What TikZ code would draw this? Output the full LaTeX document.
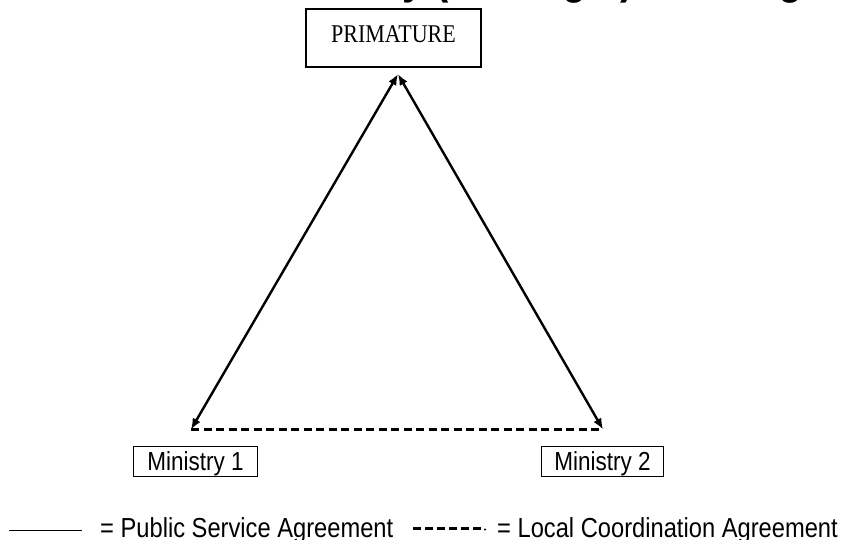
\documentclass[tikz,border=0pt]{standalone}
\usepackage{graphicx}
\usepackage{fontspec}
\setmainfont{Liberation Sans}
\newfontfamily\timesfont{Liberation Serif}
\usetikzlibrary{arrows.meta,calc}

% all lettering is set slightly taller than wide
\newcommand{\tallset}[1]{\scalebox{1}[1.16]{#1}}

\begin{document}
\begin{tikzpicture}[x=1pt,y=-1pt,
  headbox/.style={draw, line width=2.2pt, inner sep=0pt,
    minimum width=175pt, minimum height=58pt,
    font=\timesfont\fontsize{22}{26}\selectfont,
    text height=17pt, text depth=7pt},
  ministrybox/.style={draw, line width=1.1pt, inner sep=0pt,
    minimum width=#1, minimum height=30pt,
    font=\fontsize{22.5}{27}\selectfont,
    text height=18.7pt, text depth=0pt},
  legendtext/.style={anchor=base west, inner sep=0pt,
    font=\fontsize{23.7}{28}\selectfont},
  tip/.tip={Latex[length=11pt,width=9pt]},
  psa/.style={line width=2.4pt, tip-tip},
  lca/.style={line width=2.4pt, dash pattern=on 8pt off 4.5pt},
]
\useasboundingbox (0,0) rectangle (843,540);

% heading, running off the top edge
\node[anchor=base west, inner sep=0pt, font=\bfseries\fontsize{40}{48}\selectfont]
  (title) at (149,-6.5) {\tallset{Accountability (Strategic) Funding}};

% organisations
\node[headbox] (prim) at (393.5,38) {\tallset{PRIMATURE}};
\node[ministrybox=124pt] (m1) at (195.5,461.5) {\tallset{Ministry 1}};
\node[ministrybox=122pt] (m2) at (602.5,461.5) {\tallset{Ministry 2}};

% ends of the agreement lines
\coordinate (apex) at ($(prim.south)+(4.5,6)$);
\coordinate (bl) at ($(m1.north)+(-4.5,-16.5)$);
\coordinate (br) at ($(m2.north)+(0.5,-16.5)$);

\draw[lca] (bl) -- (br);
\draw[psa] (apex) -- (bl);
\draw[psa] (apex) -- (br);

% legend
\coordinate (k1a) at (9,530);
\coordinate (k1b) at (82,530);
\draw[line width=1pt] (k1a) -- (k1b);
\node[legendtext] (k1t) at (100,537) {\tallset{= Public Service Agreement}};

\coordinate (k2a) at (413,528.5);
\coordinate (k2b) at (481,528.5);
\draw[line width=2.2pt, dash pattern=on 8pt off 4pt] (k2a) -- (k2b);
\fill (485,529.5) circle (1.1pt);
\node[legendtext] (k2t) at (497,537) {\tallset{= Local Coordination Agreement}};
\end{tikzpicture}
\end{document}
